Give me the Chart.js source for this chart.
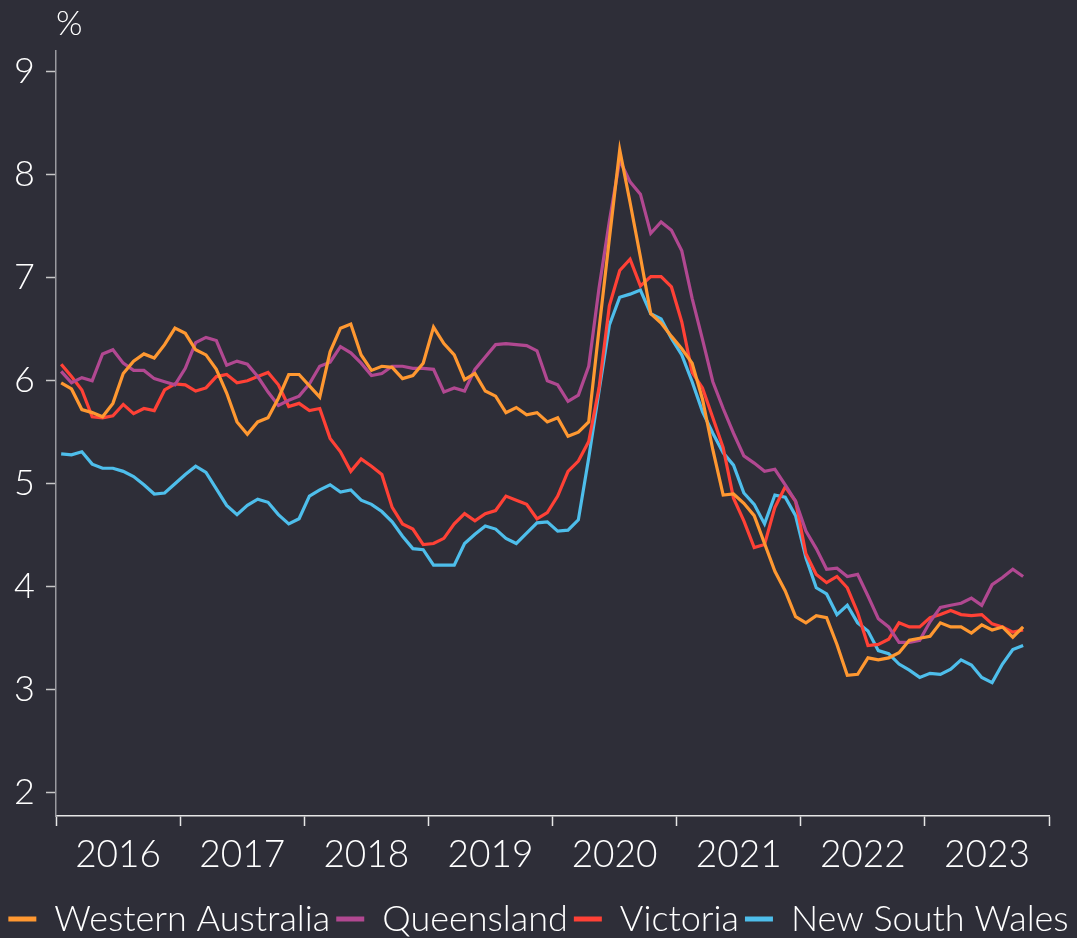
<!DOCTYPE html>
<html><head><meta charset="utf-8">
<script src="https://cdn.jsdelivr.net/npm/chart.js@4.4.0/dist/chart.umd.min.js"></script>
<style>html,body{margin:0;padding:0;background:#2e2e38;}canvas{display:block;}</style>
</head><body>
<canvas id="c" width="1077" height="938"></canvas>
<script>
const yearLabels = ['2016','2017','2018','2019','2020','2021','2022','2023'];
const yTicks = [2,3,4,5,6,7,8,9];
// monthly categories Jan 2016 .. Oct 2023
const months = [];
for (let y = 2016; y <= 2023; y++) for (let m = 1; m <= 12; m++) { if (y === 2023 && m > 10) break; months.push(y + '-' + String(m).padStart(2,'0')); }

const westernAustralia = [5.98,5.92,5.72,5.69,5.65,5.78,6.07,6.19,6.26,6.22,6.35,6.51,6.46,6.30,6.25,6.11,5.88,5.60,5.48,5.60,5.64,5.83,6.06,6.06,5.95,5.84,6.28,6.51,6.55,6.25,6.10,6.14,6.13,6.02,6.05,6.17,6.52,6.36,6.25,6.01,6.07,5.90,5.85,5.69,5.74,5.67,5.69,5.60,5.64,5.46,5.50,5.60,6.50,7.38,8.24,7.73,7.20,6.65,6.56,6.43,6.31,6.17,5.82,5.33,4.89,4.90,4.81,4.69,4.42,4.15,3.96,3.71,3.65,3.72,3.70,3.44,3.14,3.15,3.31,3.29,3.31,3.36,3.48,3.50,3.52,3.65,3.61,3.61,3.55,3.63,3.58,3.61,3.51,3.61];
const queensland = [6.09,5.98,6.03,6.00,6.26,6.30,6.17,6.10,6.10,6.02,5.99,5.96,6.12,6.37,6.42,6.39,6.15,6.19,6.16,6.04,5.89,5.76,5.81,5.85,5.97,6.14,6.18,6.33,6.27,6.17,6.05,6.07,6.14,6.14,6.12,6.12,6.11,5.89,5.93,5.90,6.11,6.23,6.35,6.36,6.35,6.34,6.29,6.00,5.96,5.80,5.86,6.14,6.90,7.55,8.14,7.93,7.81,7.43,7.54,7.46,7.26,6.80,6.40,5.99,5.73,5.49,5.27,5.20,5.12,5.14,4.99,4.83,4.54,4.37,4.17,4.18,4.10,4.12,3.91,3.69,3.61,3.46,3.46,3.48,3.66,3.80,3.82,3.84,3.89,3.82,4.02,4.09,4.17,4.10];
const victoria = [6.16,6.04,5.91,5.65,5.64,5.66,5.77,5.68,5.73,5.71,5.91,5.97,5.96,5.90,5.93,6.04,6.06,5.98,6.00,6.04,6.08,5.96,5.75,5.78,5.71,5.73,5.44,5.31,5.12,5.24,5.17,5.09,4.77,4.61,4.56,4.41,4.42,4.47,4.61,4.71,4.64,4.71,4.74,4.88,4.84,4.80,4.66,4.72,4.88,5.12,5.22,5.41,5.93,6.73,7.07,7.18,6.92,7.01,7.01,6.91,6.57,6.08,5.93,5.64,5.35,4.86,4.64,4.38,4.41,4.77,4.97,4.83,4.32,4.12,4.04,4.10,3.99,3.75,3.43,3.44,3.49,3.65,3.61,3.61,3.70,3.73,3.77,3.73,3.72,3.73,3.64,3.61,3.56,3.58];
const newSouthWales = [5.29,5.28,5.31,5.19,5.15,5.15,5.12,5.07,4.99,4.90,4.91,5.00,5.09,5.17,5.11,4.95,4.79,4.70,4.79,4.85,4.82,4.70,4.61,4.66,4.88,4.94,4.99,4.92,4.94,4.84,4.80,4.73,4.63,4.49,4.37,4.36,4.21,4.21,4.21,4.42,4.51,4.59,4.56,4.47,4.42,4.52,4.62,4.63,4.54,4.55,4.65,5.25,5.90,6.54,6.81,6.84,6.88,6.65,6.60,6.41,6.25,5.99,5.70,5.49,5.30,5.18,4.91,4.80,4.61,4.89,4.87,4.69,4.28,3.99,3.93,3.73,3.82,3.65,3.57,3.38,3.35,3.25,3.19,3.12,3.16,3.15,3.20,3.29,3.24,3.12,3.07,3.25,3.39,3.43];

const seriesNames = ['Western Australia','Queensland','Victoria','New South Wales'];
const seriesColors = ['#ff9831','#b14891','#ff4136','#4ebeeb'];
const seriesValues = [westernAustralia, queensland, victoria, newSouthWales];

const FONT = 'Lato, "Noto Sans", sans-serif';

function toPoints(arr){ return arr.map((v,i)=>({x: i + 0.5, y: v})); }

const percentLabel = {
  id: 'percentLabel',
  afterDraw(chart){
    const ctx = chart.ctx;
    ctx.save();
    ctx.fillStyle = '#ffffff';
    ctx.font = '300 34px ' + FONT;
    ctx.textAlign = 'left';
    ctx.textBaseline = 'alphabetic';
    ctx.fillText('%', chart.chartArea.left, 35);
    ctx.restore();
  }
};

new Chart(document.getElementById('c'), {
  type: 'line',
  data: {
    labels: months,
    datasets: seriesNames.map((n,k)=>({
      label: n,
      data: toPoints(seriesValues[k]),
      borderColor: seriesColors[k],
      backgroundColor: seriesColors[k],
      borderWidth: 3.2,
      pointRadius: 0,
      tension: 0,
      borderJoinStyle: 'miter',
      fill: false
    }))
  },
  options: {
    responsive: false,
    devicePixelRatio: 1,
    animation: false,
    layout: { padding: { top: 51, right: 0, left: 0, bottom: 0 } },
    plugins: {
      tooltip: { enabled: false },
      legend: {
        position: 'bottom',
        maxHeight: 43,
        labels: {
          color: '#ffffff',
          font: { family: FONT, size: 36, weight: '300' },
          boxWidth: 28,
          boxHeight: 5,
          padding: 6,
          generateLabels(chart){
            return Chart.defaults.plugins.legend.labels.generateLabels(chart).map(l => Object.assign(l, {lineWidth: 0}));
          }
        }
      }
    },
    scales: {
      x: {
        type: 'linear',
        min: 0, max: 96,
        afterBuildTicks(axis){ const t=[]; for(let v=0; v<=96; v+=6) t.push({value:v}); axis.ticks = t; },
        afterFit(scale){ scale.height = 79; },
        border: { display: true, color: '#e6e6e6', width: 1.5 },
        grid: {
          drawOnChartArea: false, drawTicks: true, tickLength: 10, tickWidth: 1.5,
          tickColor: (ctx) => (ctx.tick && ctx.tick.value % 12 === 0) ? '#e6e6e6' : 'rgba(0,0,0,0)'
        },
        ticks: {
          autoSkip: false, maxRotation: 0, color: '#ffffff', padding: 7,
          font: { family: FONT, size: 37, weight: '300' },
          callback: (v) => (v % 12 === 6) ? yearLabels[(v - 6) / 12] : ''
        }
      },
      y: {
        min: 1.775, max: 9.2,
        afterBuildTicks(axis){ axis.ticks = yTicks.map(v => ({value: v})); },
        afterFit(scale){ scale.width = 56; },
        border: { display: true, color: '#9a9aa0', width: 1.5 },
        grid: { drawOnChartArea: false, drawTicks: true, tickLength: 10, tickWidth: 1.5, tickColor: '#c8c8c8' },
        ticks: { color: '#ffffff', padding: 11, font: { family: FONT, size: 36, weight: '300' } }
      },
      spacer: {
        position: 'right',
        display: true,
        afterBuildTicks(axis){ axis.ticks = []; },
        afterFit(scale){ scale.width = 28; },
        border: { display: false },
        grid: { display: false },
        ticks: { display: false }
      }
    }
  },
  plugins: [percentLabel]
});
</script>
</body></html>
